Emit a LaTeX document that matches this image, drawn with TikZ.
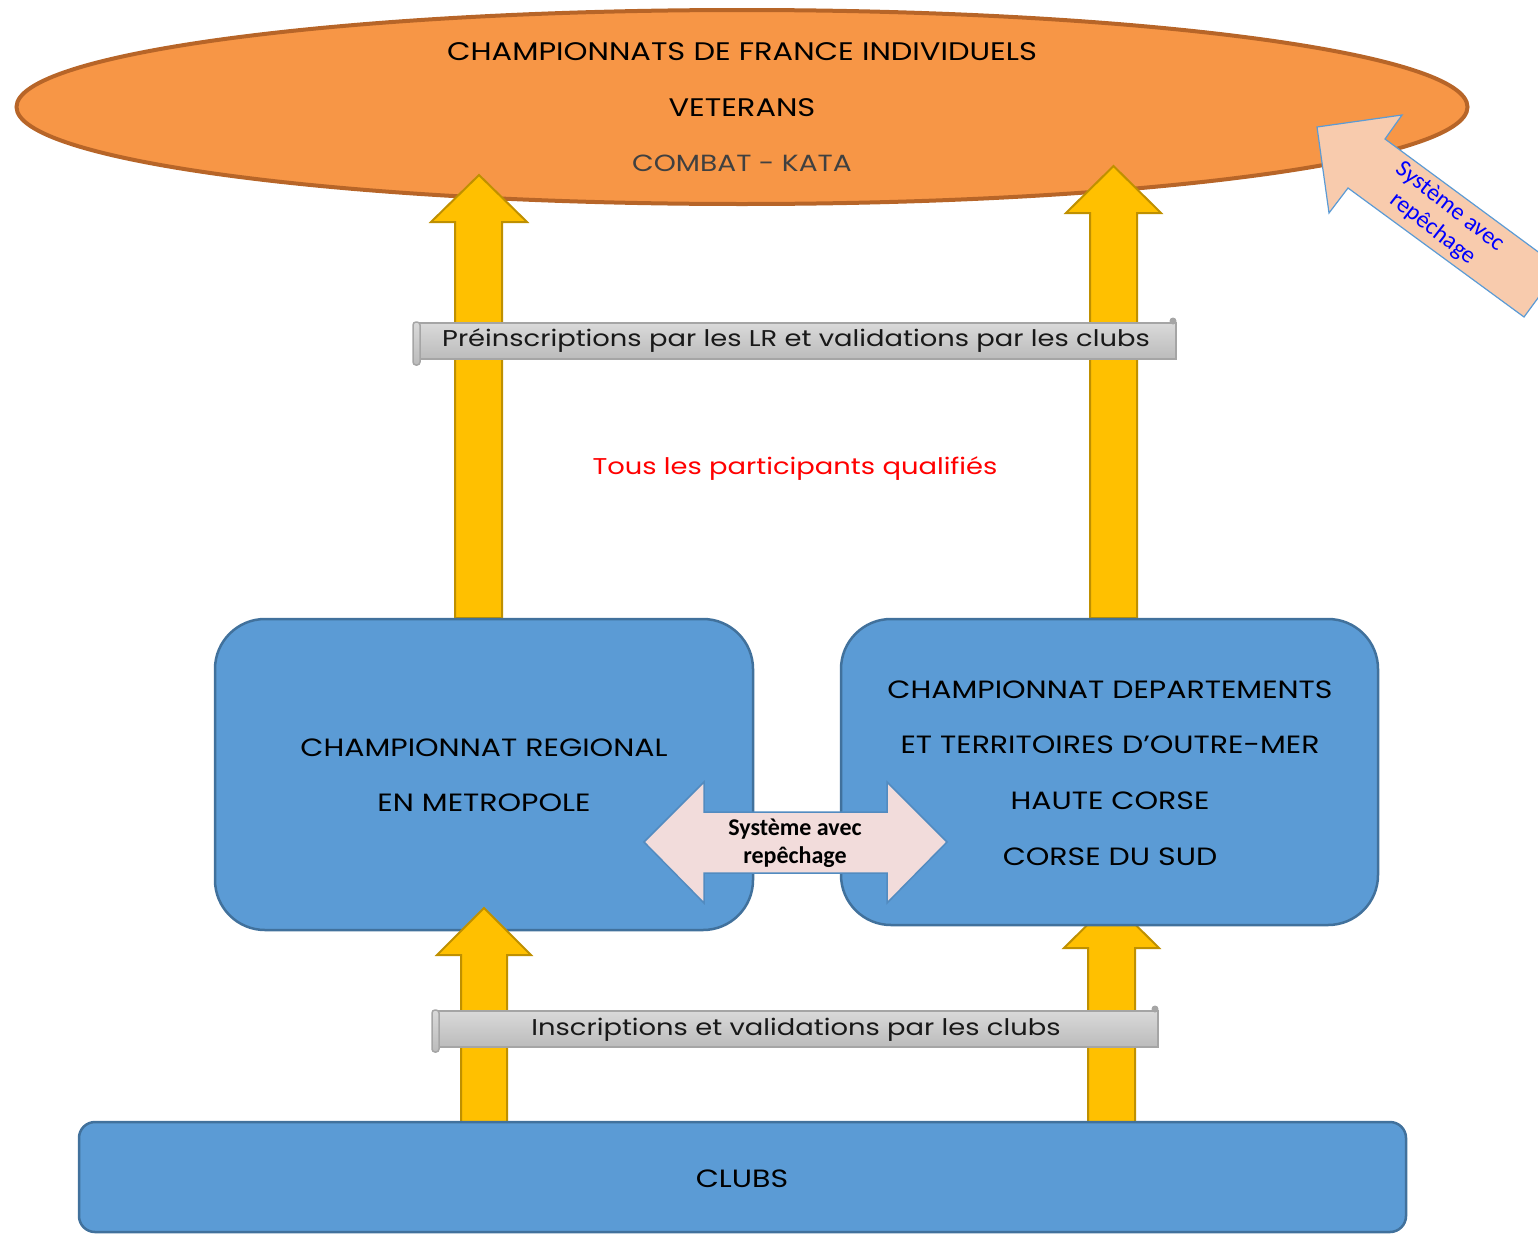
\documentclass[tikz,border=0pt]{standalone}
\usepackage{fontspec}
\setmainfont{Poppins}[FakeStretch=1.2]
\newfontfamily\calibrifont{Carlito}
\usetikzlibrary{shapes.geometric}
\definecolor{champorange}{RGB}{247,150,70}
\definecolor{champedge}{RGB}{183,101,40}
\definecolor{gold}{RGB}{255,192,0}
\definecolor{goldedge}{RGB}{191,144,0}
\definecolor{boxblue}{RGB}{91,155,213}
\definecolor{boxedge}{RGB}{65,113,156}
\definecolor{palepink}{RGB}{242,220,219}
\definecolor{peach}{RGB}{248,203,173}
\definecolor{scrollgray}{RGB}{208,208,208}
\definecolor{scrolledge}{RGB}{165,165,165}

\tikzset{
  uparrow/.style={fill=gold, draw=goldedge, line width=2pt, line join=miter},
  level/.style={fill=boxblue, draw=boxedge, line width=2.5pt},
  scroll/.style={top color=scrollgray!80, bottom color=scrollgray!90!black, draw=scrolledge, line width=1.5pt},
  title/.style={font=\fontsize{25.4}{30}\selectfont, text=black},
  boxtext/.style={font=\fontsize{25}{30}\selectfont, text=black},
  scrolltext/.style={font=\fontsize{22.8}{28}\selectfont, text=black!90}
}

\begin{document}
\begin{tikzpicture}[x=1pt, y=-1pt]
  \useasboundingbox (0,0) rectangle (1538,1234);
  \clip (0,0) rectangle (1538,1234);

  % Championnats de France
  \node[ellipse, fill=champorange, draw=champedge, line width=4pt,
        minimum width=1451pt, minimum height=194pt] (france) at (742,107) {};
  \node[title] (titre1) at (742,52) {CHAMPIONNATS DE FRANCE INDIVIDUELS};
  \node[title] (titre2) at (742,108) {VETERANS};
  \node[title, font=\fontsize{23.4}{30}\selectfont, text=black!75] (titre3) at (742,163) {COMBAT - KATA};

  % montee vers les France
  \draw[uparrow] (455,618) -- (455,222) -- (431,222) -- (479,175) -- (527,222) -- (502,222) -- (502,618) -- cycle;
  \draw[uparrow] (1090,618) -- (1090,213) -- (1066,213) -- (1113.5,166) -- (1161,213) -- (1137,213) -- (1137,618) -- cycle;

  % repechage vers les France
  \draw[fill=peach, draw=boxblue, line width=1.2pt, line join=miter]
    (1317,127) -- (1402,115) -- (1385,139) -- (1560,268) -- (1524,317) -- (1348,188) -- (1329,213) -- cycle;
  \node[font=\calibrifont\fontsize{24}{28}\selectfont, text=blue, align=center, rotate=-38] (repechage) at (1441,218) {Système avec\\repêchage};

  % preinscriptions
  \draw[scroll] (415,323) rectangle (1176,359);
  \draw[scroll, rounded corners=3pt] (413,322) rectangle (420,365);
  \fill[scrolledge] (1173,321) circle (3.5);
  \node[scrolltext] (preinscr) at (796,341) {Préinscriptions par les LR et validations par les clubs};

  \node[scrolltext, text=red] (qualif) at (795,469) {Tous les participants qualifiés};

  % montee depuis les clubs (droite, sous la boite)
  \draw[uparrow] (1088,1122) -- (1088,948) -- (1064,948) -- (1111.5,901) -- (1159,948) -- (1135,948) -- (1135,1122) -- cycle;

  % championnats qualificatifs
  \draw[level, rounded corners=50pt] (215,619) rectangle (753,930);
  \draw[level, rounded corners=50pt] (841,619) rectangle (1378,925);
  \node[boxtext] (regional1) at (484,748) {CHAMPIONNAT REGIONAL};
  \node[boxtext] (regional2) at (484,803) {EN METROPOLE};
  \node[boxtext] (dom1) at (1110,690) {CHAMPIONNAT DEPARTEMENTS};
  \node[boxtext] (dom2) at (1110,745) {ET TERRITOIRES D’OUTRE-MER};
  \node[boxtext] (dom3) at (1110,801) {HAUTE CORSE};
  \node[boxtext] (dom4) at (1110,857) {CORSE DU SUD};

  % montee depuis les clubs (gauche)
  \draw[uparrow] (461,1122) -- (461,955) -- (437,955) -- (484,908) -- (531,955) -- (507,955) -- (507,1122) -- cycle;

  % repechage entre les deux
  \draw[fill=palepink, draw=boxblue!90!black, line width=1.5pt, line join=miter]
    (644,842) -- (704,782) -- (704,812) -- (887,812) -- (887,782) -- (947,842)
    -- (887,903) -- (887,873) -- (704,873) -- (704,903) -- cycle;
  \node[font=\calibrifont\bfseries\fontsize{24}{28}\selectfont, align=center] (echange) at (795,843) {Système avec\\repêchage};

  % clubs
  \draw[level, rounded corners=16pt] (79,1122) rectangle (1406,1232);
  \node[boxtext] (clubs) at (742,1179) {CLUBS};

  % inscriptions
  \draw[scroll] (434,1011) rectangle (1158,1047);
  \draw[scroll, rounded corners=3pt] (432,1010) rectangle (439,1052);
  \fill[scrolledge] (1155,1009) circle (3.5);
  \node[scrolltext] (inscr) at (796,1030) {Inscriptions et validations par les clubs};
\end{tikzpicture}
\end{document}
